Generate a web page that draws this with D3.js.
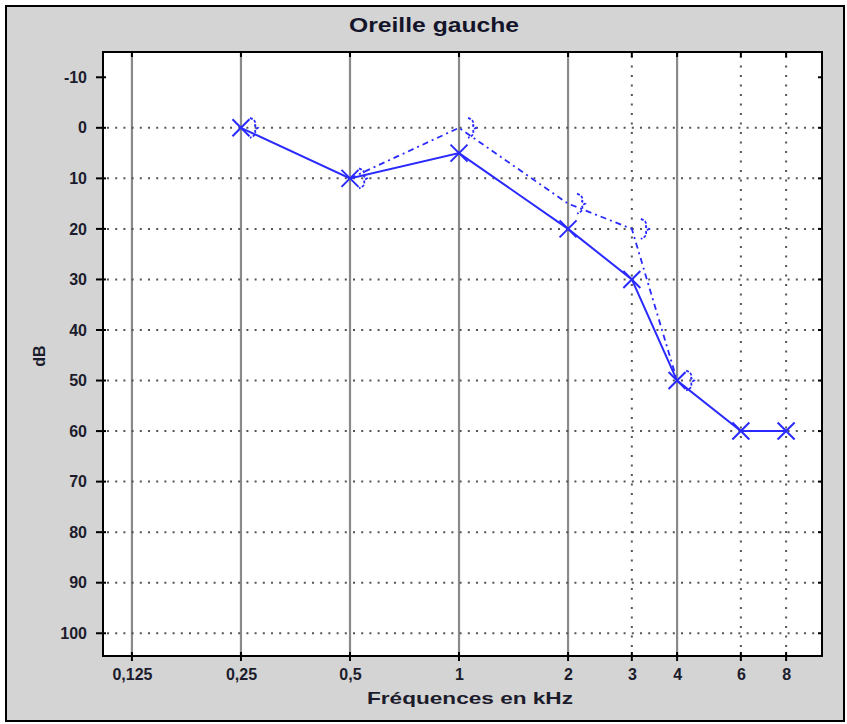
<!DOCTYPE html>
<html><head><meta charset="utf-8">
<script src="https://cdn.jsdelivr.net/npm/d3@7"></script>
<style>html,body{margin:0;padding:0;background:#fff;}svg{display:block;}</style>
</head><body>
<script>
const freqTicks = [0.125, 0.25, 0.5, 1, 2, 3, 4, 6, 8];
const freqLabels = ["0,125", "0,25", "0,5", "1", "2", "3", "4", "6", "8"];
const solidFreqs = [0.125, 0.25, 0.5, 1, 2, 4];
const dottedFreqs = [3, 6, 8];
const dbTicks = [-10, 0, 10, 20, 30, 40, 50, 60, 70, 80, 90, 100];
const airFreq = [0.25, 0.5, 1, 2, 3, 4, 6, 8];
const airDb = [0, 10, 5, 20, 30, 50, 60, 60];
const boneFreq = [0.25, 0.5, 1, 2, 3, 4];
const boneDb = [0, 10, 0, 15, 20, 50];
const boneLineFreq = [0.5, 1, 2, 3, 4];
const boneLineDb = [10, 0, 15, 20, 50];

const W = 847, H = 724;
const L = 103, R = 822, T = 52, B = 656;
const blue = "#2a2aff";
const FONT = "Arial, 'Liberation Sans', sans-serif";

const svg = d3.select("body").append("svg").attr("width", W).attr("height", H);
svg.append("rect").attr("x", 0).attr("y", 0).attr("width", W).attr("height", H).attr("fill", "#fff");
svg.append("rect").attr("x", 6).attr("y", 6).attr("width", 838).attr("height", 715)
  .attr("fill", "#d4d4d4").attr("stroke", "#000").attr("stroke-width", 2);

const x = d3.scaleLog().base(2).domain([0.104, 10.05]).range([L, R]);
const y = d3.scaleLinear().domain([-15, 104.5]).range([T, B]);

svg.append("rect").attr("x", L).attr("y", T).attr("width", R - L).attr("height", B - T).attr("fill", "#fff");

// vertical solid grid
svg.append("g").selectAll("line").data(solidFreqs).join("line")
  .attr("x1", d => x(d)).attr("x2", d => x(d)).attr("y1", T).attr("y2", B)
  .attr("stroke", "#8a8a8a").attr("stroke-width", 2.2);
// vertical dotted grid
svg.append("g").selectAll("line").data(dottedFreqs).join("line")
  .attr("x1", d => x(d)).attr("x2", d => x(d)).attr("y1", T + 4).attr("y2", B)
  .attr("stroke", "#555").attr("stroke-width", 2).attr("stroke-dasharray", "2,7.5");
// horizontal dotted grid
svg.append("g").selectAll("line").data(dbTicks.filter(d => d >= 0)).join("line")
  .attr("x1", L + 4).attr("x2", R).attr("y1", d => y(d)).attr("y2", d => y(d))
  .attr("stroke", "#555").attr("stroke-width", 2).attr("stroke-dasharray", "2,6.2");

// axes
const yAxis = d3.axisLeft(y).tickValues(dbTicks).tickFormat(d => String(d)).tickSize(0).tickPadding(16);
const gy = svg.append("g").attr("transform", `translate(${L},0)`).call(yAxis);
gy.select(".domain").remove();
gy.selectAll("text").attr("font-family", FONT)
  .attr("font-weight", "bold").attr("font-size", 16).attr("fill", "#1c1c2c");
// y tick marks (left and right)
svg.append("g").selectAll("line").data(dbTicks).join("line")
  .attr("x1", L - 7).attr("x2", L + 3).attr("y1", d => y(d)).attr("y2", d => y(d))
  .attr("stroke", "#000").attr("stroke-width", 2);
svg.append("g").selectAll("line").data(dbTicks).join("line")
  .attr("x1", R - 4).attr("x2", R).attr("y1", d => y(d)).attr("y2", d => y(d))
  .attr("stroke", "#000").attr("stroke-width", 2);

const xAxis = d3.axisBottom(x).tickValues(freqTicks).tickFormat((d, i) => freqLabels[i]).tickSize(0).tickPadding(13);
const gx = svg.append("g").attr("transform", `translate(0,${B})`).call(xAxis);
gx.select(".domain").remove();
gx.selectAll("text").attr("font-family", FONT)
  .attr("font-weight", "bold").attr("font-size", 16).attr("fill", "#1c1c2c");
svg.append("g").selectAll("line").data(freqTicks).join("line")
  .attr("x1", d => x(d)).attr("x2", d => x(d)).attr("y1", B - 4).attr("y2", B + 5)
  .attr("stroke", "#000").attr("stroke-width", 2);
svg.append("g").selectAll("line").data(freqTicks).join("line")
  .attr("x1", d => x(d)).attr("x2", d => x(d)).attr("y1", T).attr("y2", T + 5)
  .attr("stroke", "#000").attr("stroke-width", 2);

// plot frame
svg.append("rect").attr("x", L).attr("y", T).attr("width", R - L).attr("height", B - T)
  .attr("fill", "none").attr("stroke", "#000").attr("stroke-width", 2);

// bone conduction line (dash-dot)
const boneLine = boneLineFreq.map((f, i) => [x(f), y(boneLineDb[i])]);
svg.append("path").attr("d", d3.line()(boneLine)).attr("fill", "none")
  .attr("stroke", blue).attr("stroke-width", 1.8).attr("stroke-dasharray", "6,4,2,4");

// air conduction line
const airPts = airFreq.map((f, i) => [x(f), y(airDb[i])]);
svg.append("path").attr("d", d3.line()(airPts)).attr("fill", "none")
  .attr("stroke", blue).attr("stroke-width", 2);
// X markers
const s = 8.5;
svg.append("g").selectAll("path").data(airPts).join("path")
  .attr("d", d => `M${d[0]-s},${d[1]-s}L${d[0]+s},${d[1]+s}M${d[0]-s},${d[1]+s}L${d[0]+s},${d[1]-s}`)
  .attr("stroke", blue).attr("stroke-width", 2).attr("fill", "none");

// bone markers ">"-like brace
const bonePts = boneFreq.map((f, i) => [x(f) + 12, y(boneDb[i])]);
svg.append("g").selectAll("path").data(bonePts).join("path")
  .attr("transform", d => `translate(${d[0]},${d[1]})`)
  .attr("d", "M-3,-10 C2,-8 3,-6 2,-2 L5,0 L2,2 C3,6 2,8 -3,10")
  .attr("stroke", blue).attr("stroke-width", 1.8).attr("fill", "none").attr("stroke-dasharray", "3,1.5");

// titles
svg.append("text").attr("x", 434).attr("y", 32).attr("text-anchor", "middle")
  .attr("font-family", FONT).attr("font-weight", "bold")
  .attr("font-size", 20).attr("fill", "#14142a")
  .attr("textLength", 170).attr("lengthAdjust", "spacingAndGlyphs").text("Oreille gauche");
svg.append("text").attr("x", 470).attr("y", 704).attr("text-anchor", "middle")
  .attr("font-family", FONT).attr("font-weight", "bold")
  .attr("font-size", 17).attr("fill", "#1c1c2c")
  .attr("textLength", 206).attr("lengthAdjust", "spacingAndGlyphs").text("Fréquences en kHz");
svg.append("text").attr("transform", "translate(45,356) rotate(-90)").attr("text-anchor", "middle")
  .attr("font-family", FONT).attr("font-weight", "bold")
  .attr("font-size", 16).attr("fill", "#1c1c2c").text("dB");
</script>
</body></html>
